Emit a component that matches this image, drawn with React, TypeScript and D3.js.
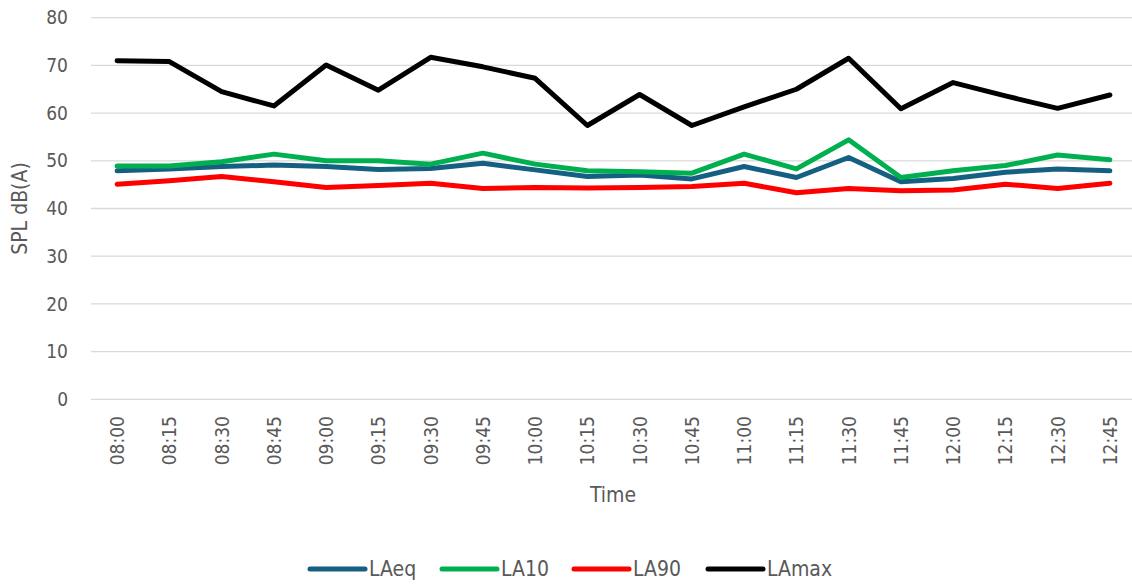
import { useEffect, useRef } from 'react';
import * as d3 from 'd3';

// data
const times = ['08:00', '08:15', '08:30', '08:45', '09:00', '09:15', '09:30', '09:45', '10:00', '10:15',
  '10:30', '10:45', '11:00', '11:15', '11:30', '11:45', '12:00', '12:15', '12:30', '12:45'];
const laeq = [47.9, 48.3, 48.8, 49.1, 48.8, 48.2, 48.4, 49.5, 48.1, 46.7,
  47.0, 46.2, 48.8, 46.5, 50.7, 45.6, 46.3, 47.6, 48.3, 47.9];
const la10 = [48.9, 48.9, 49.8, 51.4, 50.0, 50.0, 49.3, 51.6, 49.3, 47.9,
  47.7, 47.4, 51.4, 48.3, 54.4, 46.5, 47.9, 49.0, 51.2, 50.2];
const la90 = [45.1, 45.8, 46.7, 45.6, 44.4, 44.8, 45.3, 44.2, 44.4, 44.3,
  44.4, 44.6, 45.3, 43.3, 44.2, 43.7, 43.9, 45.1, 44.2, 45.3];
const lamax = [71.0, 70.8, 64.5, 61.5, 70.1, 64.8, 71.7, 69.7, 67.3, 57.4,
  63.9, 57.4, 61.3, 65.0, 71.5, 60.9, 66.4, 63.6, 61.0, 63.8];
const yTicks = [0, 10, 20, 30, 40, 50, 60, 70, 80];

const seriesNames = ['LAeq', 'LA10', 'LA90', 'LAmax'];
const seriesValues = [laeq, la10, la90, lamax];
const seriesColors = ['#156082', '#00B050', '#FF0000', '#000000'];

const FONT = '"Liberation Sans Narrow", "Arial Narrow", "DejaVu Sans Condensed", sans-serif';
const TEXT = '#595959';

const App = () => {
  const chartRef = useRef<HTMLDivElement>(null);

  useEffect(() => {
    d3.select(chartRef.current).selectAll('svg').remove();

    const width = 1132;
    const height = 584;
    const plot = { left: 91, right: 1136, top: 17.7, bottom: 399.3 };

    const svg = d3.select(chartRef.current)
      .append('svg')
      .attr('width', width)
      .attr('height', height)
      .style('position', 'absolute')
      .style('left', 0)
      .style('top', 0)
      .style('font-family', FONT);

    // scales
    const x = d3.scalePoint<string>()
      .domain(times)
      .range([plot.left, plot.right])
      .padding(0.5);
    const y = d3.scaleLinear()
      .domain([0, 80])
      .range([plot.bottom, plot.top]);

    // gridlines
    svg.append('g')
      .selectAll('line')
      .data(yTicks)
      .join('line')
      .attr('x1', plot.left)
      .attr('x2', plot.right)
      .attr('y1', d => y(d))
      .attr('y2', d => y(d))
      .attr('stroke', '#d9d9d9')
      .attr('stroke-width', 1.3);

    // y axis labels
    svg.append('g')
      .selectAll('text')
      .data(yTicks)
      .join('text')
      .attr('x', 68)
      .attr('y', d => y(d))
      .attr('dy', '0.35em')
      .attr('text-anchor', 'end')
      .attr('font-size', 19)
      .attr('fill', TEXT)
      .text(d => d);

    // x axis labels, rotated
    svg.append('g')
      .selectAll('text')
      .data(times)
      .join('text')
      .attr('transform', d => `translate(${x(d)! + 7}, 416) rotate(-90)`)
      .attr('text-anchor', 'end')
      .attr('font-size', 19)
      .attr('fill', TEXT)
      .text(d => d);

    // axis titles
    svg.append('text')
      .attr('x', 613)
      .attr('y', 502)
      .attr('text-anchor', 'middle')
      .attr('font-size', 21)
      .attr('fill', TEXT)
      .text('Time');
    svg.append('text')
      .attr('transform', `translate(27, ${(plot.top + plot.bottom) / 2}) rotate(-90)`)
      .attr('text-anchor', 'middle')
      .attr('font-size', 21)
      .attr('fill', TEXT)
      .text('SPL dB(A)');

    // lines
    const line = d3.line<number>()
      .x((d, i) => x(times[i])!)
      .y(d => y(d));
    seriesValues.forEach((vals, i) => {
      svg.append('path')
        .datum(vals)
        .attr('fill', 'none')
        .attr('stroke', seriesColors[i])
        .attr('stroke-width', 5)
        .attr('stroke-linejoin', 'round')
        .attr('stroke-linecap', 'round')
        .attr('d', line);
    });

    // legend
    const legendX = [310, 442, 574, 708];
    const legendY = 569;
    const legend = svg.append('g');
    seriesNames.forEach((name, i) => {
      legend.append('line')
        .attr('x1', legendX[i])
        .attr('x2', legendX[i] + 55)
        .attr('y1', legendY)
        .attr('y2', legendY)
        .attr('stroke', seriesColors[i])
        .attr('stroke-width', 5)
        .attr('stroke-linecap', 'round');
      legend.append('text')
        .attr('x', legendX[i] + 59)
        .attr('y', legendY)
        .attr('dy', '0.35em')
        .attr('font-size', 21)
        .attr('fill', TEXT)
        .text(name);
    });
  }, []);

  return (
    <div className='chart' ref={chartRef}></div>
  );
};

export default App;
